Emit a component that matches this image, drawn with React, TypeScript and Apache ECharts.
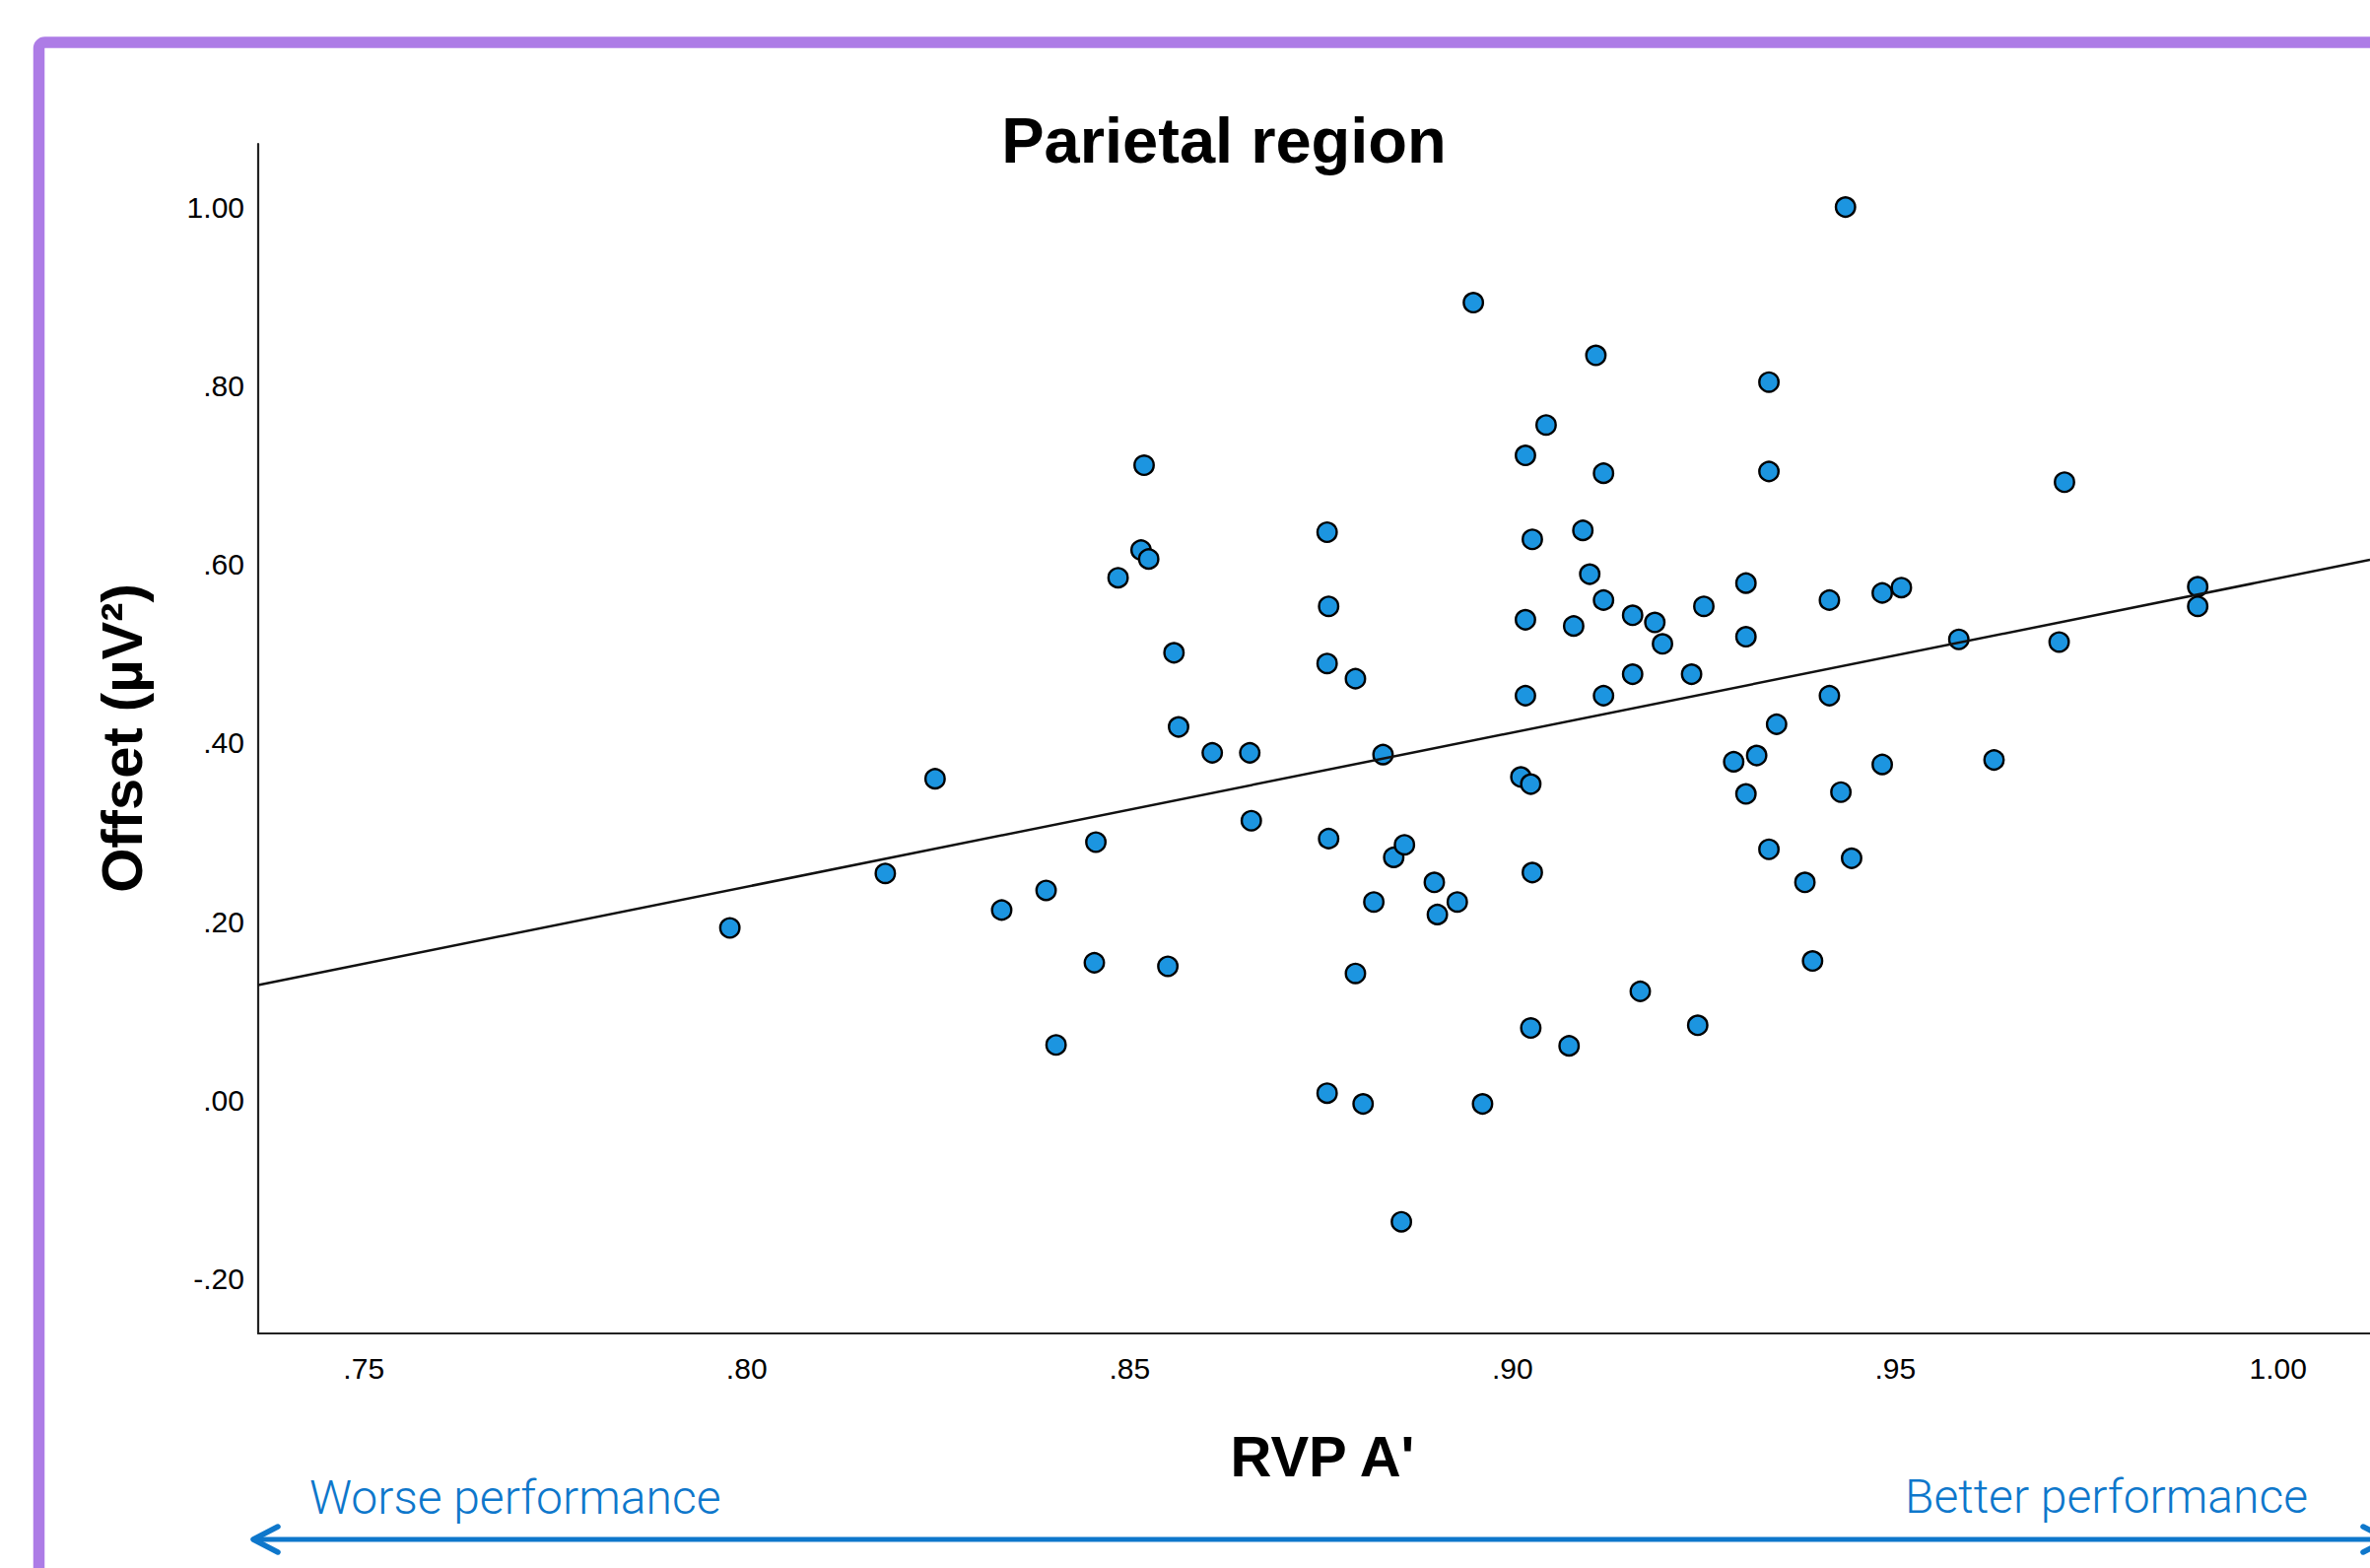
import React, { useEffect, useRef } from "react";
import * as echarts from "echarts";

// ---- data ----
const RVP_A = [
  0.7978, 0.8181, 0.8246, 0.8333, 0.8391, 0.8404, 0.8456, 0.8454, 0.8485, 0.8519,
  0.8515, 0.8525, 0.8558, 0.8564, 0.855, 0.8608, 0.8657, 0.8659, 0.8758, 0.876,
  0.8758, 0.876, 0.8758, 0.8795, 0.8795, 0.8805, 0.8819, 0.8831, 0.8845, 0.8859,
  0.8855, 0.8898, 0.8902, 0.8928, 0.8949, 0.8961, 0.9011, 0.9024, 0.9017, 0.9017,
  0.9017, 0.9026, 0.9026, 0.9024, 0.9044, 0.9074, 0.908, 0.9092, 0.9101, 0.9109,
  0.9119, 0.9119, 0.9119, 0.9157, 0.9157, 0.9167, 0.9186, 0.9196, 0.9234, 0.9242,
  0.925, 0.9289, 0.9305, 0.9305, 0.9305, 0.9319, 0.9335, 0.9335, 0.9335, 0.9345,
  0.9382, 0.9392, 0.9414, 0.9414, 0.9429, 0.9435, 0.9443, 0.9483, 0.9483, 0.9508,
  0.9583, 0.9629, 0.9714, 0.9721, 0.9895, 0.9895,
];
const OFFSET = [
  0.193, 0.254, 0.36, 0.213, 0.235, 0.062, 0.289, 0.154, 0.585, 0.711,
  0.616, 0.606, 0.501, 0.418, 0.15, 0.389, 0.389, 0.313, 0.636, 0.553,
  0.489, 0.293, 0.008, 0.472, 0.142, -0.004, 0.222, 0.387, 0.272, 0.286,
  -0.136, 0.244, 0.208, 0.222, 0.893, -0.004, 0.362, 0.354, 0.722, 0.538,
  0.453, 0.628, 0.255, 0.081, 0.756, 0.061, 0.531, 0.638, 0.589, 0.834,
  0.702, 0.56, 0.453, 0.543, 0.477, 0.122, 0.535, 0.511, 0.477, 0.084,
  0.553, 0.379, 0.579, 0.519, 0.343, 0.386, 0.804, 0.704, 0.281, 0.421,
  0.244, 0.156, 0.56, 0.453, 0.345, 1.0, 0.271, 0.568, 0.376, 0.574,
  0.516, 0.381, 0.513, 0.692, 0.575, 0.553,
];
const X_TICKS = [0.75, 0.8, 0.85, 0.9, 0.95, 1.0];
const Y_TICKS = [-0.2, 0.0, 0.2, 0.4, 0.6, 0.8, 1.0];
const X_RANGE = [0.7362, 1.012];
const Y_RANGE = [-0.261, 1.0707];
const FIT_X = [0.7362, 1.012];
const FIT_Y = [0.129, 0.605];

const TITLE = "Parietal region";
const X_NAME = "RVP A'";
const Y_NAME = "Offset (µV²)";
const LEFT_NOTE = "Worse performance";
const RIGHT_NOTE = "Better performance";

const W = 2405;
const H = 1591;
const SANS = "'Liberation Sans', Arial, Helvetica, sans-serif";
const BLUE = "#0E77CB";

function fmt(v: number): string {
  const s = Math.abs(v).toFixed(2);
  const t = s.startsWith("0") ? s.slice(1) : s;
  return (v < -1e-9 ? "-" : "") + t;
}

export default function App() {
  const ref = useRef<HTMLDivElement>(null);

  useEffect(() => {
    if (!ref.current) return;
    const chart = echarts.init(ref.current, undefined, { renderer: "svg" });

    const points = RVP_A.map((x, i) => [x, OFFSET[i]]);
    const fit = FIT_X.map((x, i) => [x, FIT_Y[i]]);

    chart.setOption({
      animation: false,
      backgroundColor: "#ffffff",
      grid: { left: 262, top: 146, right: 0, bottom: H - 1353, containLabel: false },
      xAxis: {
        type: "value",
        min: X_RANGE[0],
        max: X_RANGE[1],
        splitLine: { show: false },
        axisTick: { show: false },
        axisLine: { show: true, onZero: false, lineStyle: { color: "#222", width: 2.2 } },
        axisLabel: {
          customValues: X_TICKS,
          formatter: (v: number) => fmt(v),
          color: "#000",
          fontSize: 30,
          fontFamily: SANS,
          margin: 20,
        },
      },
      yAxis: {
        type: "value",
        min: Y_RANGE[0],
        max: Y_RANGE[1],
        splitLine: { show: false },
        axisTick: { show: false },
        axisLine: { show: true, onZero: false, lineStyle: { color: "#222", width: 2.2 } },
        axisLabel: {
          customValues: Y_TICKS,
          formatter: (v: number) => fmt(v),
          color: "#000",
          fontSize: 30,
          fontFamily: SANS,
          margin: 14,
        },
      },
      series: [
        {
          type: "scatter",
          data: points,
          symbol: "circle",
          symbolSize: 19.5,
          itemStyle: { color: "#1C95E0", borderColor: "#000", borderWidth: 2.4, opacity: 1 },
          z: 2,
        },
        {
          type: "line",
          data: fit,
          symbol: "none",
          lineStyle: { color: "#111", width: 2.5 },
          z: 3,
        },
      ],
      graphic: [
        {
          type: "rect",
          shape: { x: 39.5, y: 43, width: W + 40, height: H + 40, r: 6 },
          style: { fill: "none", stroke: "#AD7CE6", lineWidth: 11.5 },
          z: 10,
        },
        {
          type: "text",
          x: 1242,
          y: 142,
          style: {
            text: TITLE,
            font: `bold 65px ${SANS}`,
            fill: "#000",
            align: "center",
            verticalAlign: "middle",
          },
        },
        {
          type: "text",
          x: 1342,
          y: 1477,
          style: {
            text: X_NAME,
            font: `bold 58px ${SANS}`,
            fill: "#000",
            align: "center",
            verticalAlign: "middle",
          },
        },
        {
          type: "text",
          x: 123,
          y: 749,
          rotation: Math.PI / 2,
          style: {
            text: Y_NAME,
            font: `bold 58px ${SANS}`,
            fill: "#000",
            align: "center",
            verticalAlign: "middle",
          },
        },
        {
          type: "text",
          x: 314,
          y: 1519,
          style: {
            text: LEFT_NOTE,
            font: `300 48px Roboto, 'Noto Sans', sans-serif`,
            fill: BLUE,
            align: "left",
            verticalAlign: "middle",
          },
        },
        {
          type: "text",
          x: 2342,
          y: 1518,
          style: {
            text: RIGHT_NOTE,
            font: `300 48px Roboto, 'Noto Sans', sans-serif`,
            fill: BLUE,
            align: "right",
            verticalAlign: "middle",
          },
        },
        {
          type: "line",
          shape: { x1: 258, y1: 1562, x2: 2420, y2: 1562 },
          style: { stroke: BLUE, lineWidth: 5 },
        },
        {
          type: "polyline",
          shape: { points: [[282, 1549], [257, 1562], [282, 1575]] },
          style: { stroke: BLUE, lineWidth: 5.5, lineCap: "round", lineJoin: "round", fill: "none" },
        },
        {
          type: "polyline",
          shape: { points: [[2398, 1549], [2423, 1562], [2398, 1575]] },
          style: { stroke: BLUE, lineWidth: 5.5, lineCap: "round", lineJoin: "round", fill: "none" },
        },
      ],
    });

    return () => chart.dispose();
  }, []);

  return (
    <div
      ref={ref}
      style={{ position: "absolute", left: 0, top: 0, width: W, height: H, background: "#fff" }}
    />
  );
}
